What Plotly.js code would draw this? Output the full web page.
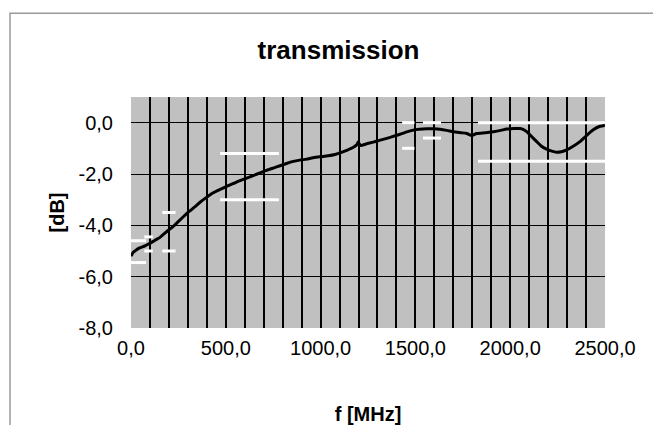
<!DOCTYPE html>
<html>
<head>
<meta charset="utf-8">
<script src="https://cdn.plot.ly/plotly-3.0.1.min.js"></script>
<style>html,body{margin:0;padding:0;background:#fff;}#chart{width:653px;height:425px;}</style>
</head>
<body>
<div id="chart"></div>
<script>
// measured transmission curve
var freqMHz = [0, 12, 21, 40, 74, 100, 127, 153, 179, 205, 232, 260, 285, 310, 338, 364, 400, 434, 470, 505, 540, 575, 610, 645, 680, 715, 750, 786, 820, 856, 890, 926, 960, 997, 1040, 1076, 1110, 1138, 1173, 1192, 1198, 1211, 1240, 1278, 1310, 1349, 1380, 1419, 1450, 1489, 1520, 1560, 1600, 1630, 1665, 1700, 1740, 1771, 1797, 1823, 1870, 1911, 1950, 1981, 2020, 2052, 2070, 2087, 2110, 2140, 2165, 2192, 2220, 2245, 2270, 2298, 2330, 2368, 2400, 2438, 2470, 2491, 2500];
var transmissionDb = [-5.2, -5.05, -5.0, -4.9, -4.8, -4.7, -4.58, -4.47, -4.3, -4.15, -3.98, -3.78, -3.6, -3.44, -3.27, -3.1, -2.9, -2.73, -2.6, -2.48, -2.37, -2.26, -2.16, -2.06, -1.96, -1.86, -1.77, -1.68, -1.59, -1.51, -1.46, -1.42, -1.37, -1.33, -1.29, -1.24, -1.16, -1.08, -0.96, -0.85, -0.75, -0.89, -0.83, -0.76, -0.69, -0.61, -0.54, -0.45, -0.37, -0.29, -0.26, -0.24, -0.24, -0.26, -0.3, -0.35, -0.39, -0.42, -0.5, -0.42, -0.39, -0.35, -0.3, -0.25, -0.23, -0.23, -0.27, -0.35, -0.52, -0.74, -0.92, -1.03, -1.11, -1.15, -1.13, -1.06, -0.93, -0.74, -0.52, -0.28, -0.15, -0.12, -0.1];

// limit mask segments (white lines)
var segStart   = [0,    70,   165,  470,  1430, 1540, 1830];
var segEnd     = [80,   115,  235,  780,  1495, 1635, 2500];
var upperLimit = [-4.6, -4.45, -3.5, -1.2, 0.0,  0.0,  0.0];
var lowerLimit = [-5.45, -5.0, -5.0, -3.0, -1.0, -0.6, -1.5];

// axis ticks (grid every 100 MHz, labels every 500 MHz)
var xTickVals = [0, 100, 200, 300, 400, 500, 600, 700, 800, 900, 1000, 1100, 1200, 1300, 1400, 1500, 1600, 1700, 1800, 1900, 2000, 2100, 2200, 2300, 2400, 2500];
var xTickText = ['0,0', '', '', '', '', '500,0', '', '', '', '', '1000,0', '', '', '', '', '1500,0', '', '', '', '', '2000,0', '', '', '', '', '2500,0'];
var yTickVals = [-8, -6, -4, -2, 0];
var yTickText = ['-8,0', '-6,0', '-4,0', '-2,0', '0,0'];

function segTrace(levels) {
  var xs = [], ys = [];
  for (var i = 0; i < segStart.length; i++) {
    xs.push(segStart[i], segEnd[i], null);
    ys.push(levels[i], levels[i], null);
  }
  return {x: xs, y: ys, mode: 'lines', type: 'scatter', hoverinfo: 'skip',
          line: {color: '#ffffff', width: 3}, showlegend: false, connectgaps: false};
}

var traces = [
  segTrace(upperLimit),
  segTrace(lowerLimit),
  {x: freqMHz, y: transmissionDb, mode: 'lines', type: 'scatter',
   line: {color: '#000000', width: 3, shape: 'spline', smoothing: 0.6}, showlegend: false}
];

var plotL = 131, plotR = 605, plotT = 97, plotB = 328.5;
var pw = plotR - plotL, ph = plotB - plotT;

var layout = {
  width: 653, height: 425,
  margin: {l: plotL, r: 653 - plotR, t: plotT, b: 425 - plotB, pad: 0},
  paper_bgcolor: '#ffffff',
  plot_bgcolor: '#c0c0c0',
  font: {family: 'Liberation Sans, Arial, sans-serif', color: '#000000', size: 20},
  title: {text: '<b>transmission</b>', font: {size: 26, family: 'Liberation Sans, Arial, sans-serif'},
          x: 338.5 / 653, xanchor: 'center', xref: 'container', y: 1 - 50 / 425, yanchor: 'middle', yref: 'container'},
  xaxis: {
    range: [0, 2500], tickmode: 'array', tickvals: xTickVals, ticktext: xTickText,
    showgrid: true, gridcolor: '#000000', gridwidth: 2,
    zeroline: false, showline: false, ticks: '', ticklabelstandoff: 6,
    tickfont: {size: 20},
    title: {text: '<b>f [MHz]</b>', font: {size: 20}, standoff: 50},
    fixedrange: true
  },
  yaxis: {
    range: [-8, 1], tickmode: 'array', tickvals: yTickVals, ticktext: yTickText,
    showgrid: true, gridcolor: '#000000', gridwidth: 1,
    zeroline: false, showline: false, ticks: '', ticklabelstandoff: 17,
    tickfont: {size: 20},
    title: {text: '<b>[dB]</b>', font: {size: 20}, standoff: 8},
    fixedrange: true
  },
  shapes: [{
    type: 'rect', xref: 'paper', yref: 'paper',
    x0: (10 - plotL) / pw, x1: (700 - plotL) / pw,
    y0: (plotB - 460) / ph, y1: (plotB - 13) / ph,
    line: {color: '#9a9a9a', width: 1.5}, fillcolor: 'rgba(0,0,0,0)', layer: 'below'
  }]
};

Plotly.newPlot('chart', traces, layout, {displayModeBar: false, staticPlot: true});
</script>
</body>
</html>
